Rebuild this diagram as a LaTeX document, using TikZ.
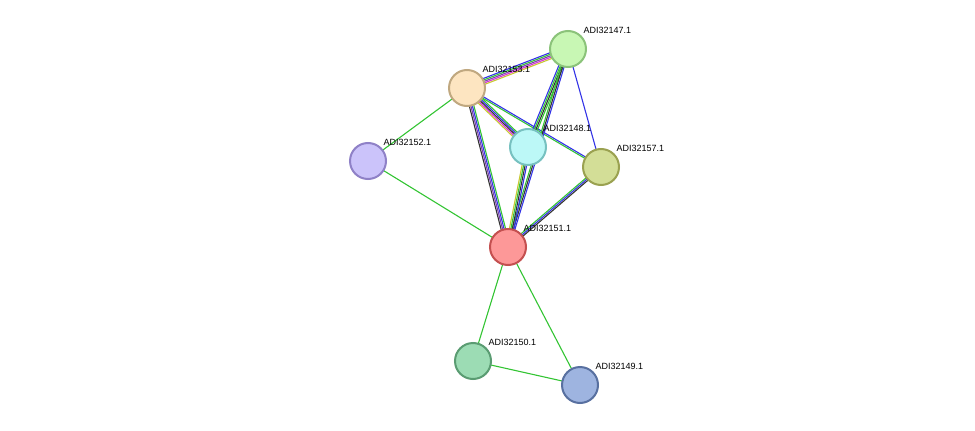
\documentclass[tikz,border=0pt]{standalone}
\usepackage{fontspec}
\setmainfont{Liberation Sans}
\usetikzlibrary{calc,backgrounds}

\definecolor{sgreen}{HTML}{33C433}
\definecolor{sblue}{HTML}{3333E6}
\definecolor{sblack}{HTML}{333333}
\definecolor{syellow}{HTML}{C8C832}
\definecolor{smagenta}{HTML}{D633D6}
\definecolor{spurple}{HTML}{7A3FB0}

\tikzset{
  prot/.style={circle, minimum size=36pt, inner sep=0, line width=2pt},
  lbl/.style={font=\fontsize{9}{10}\selectfont, inner sep=2pt}
}

% one line of the link per colour, shifted sideways by the offset
\newcommand\linkedge[3]{%
  \foreach \o/\c in {#3} {
    \draw[\c, line width=1.1pt] ($(#1)!\o pt!90:(#2)$) -- ($(#2)!\o pt!-90:(#1)$);
  }%
}

\begin{document}
\begin{tikzpicture}[x=1pt, y=-1pt]
    \useasboundingbox (0,0) rectangle (975,431);

    % Proteins
    \node[prot, fill={rgb,255:red,200;green,247;blue,180}, draw={rgb,255:red,139;green,195;blue,122},
      label={[lbl]45:ADI32147.1}] (p147) at (568,49) {};
    \node[prot, fill={rgb,255:red,253;green,229;blue,193}, draw={rgb,255:red,192;green,168;blue,128},
      label={[lbl]45:ADI32153.1}] (p153) at (467,88) {};
    \node[prot, fill={rgb,255:red,188;green,248;blue,247}, draw={rgb,255:red,119;green,193;blue,192},
      label={[lbl]45:ADI32148.1}] (p148) at (528,147) {};
    \node[prot, fill={rgb,255:red,203;green,195;blue,250}, draw={rgb,255:red,143;green,129;blue,199},
      label={[lbl]45:ADI32152.1}] (p152) at (368,161) {};
    \node[prot, fill={rgb,255:red,211;green,222;blue,151}, draw={rgb,255:red,154;green,161;blue,80},
      label={[lbl]45:ADI32157.1}] (p157) at (601,167) {};
    \node[prot, fill={rgb,255:red,253;green,152;blue,152}, draw={rgb,255:red,196;green,80;blue,80},
      label={[lbl]45:ADI32151.1}] (p151) at (508,247) {};
    \node[prot, fill={rgb,255:red,156;green,220;blue,180}, draw={rgb,255:red,90;green,156;blue,114},
      label={[lbl]45:ADI32150.1}] (p150) at (473,361) {};
    \node[prot, fill={rgb,255:red,158;green,180;blue,224}, draw={rgb,255:red,88;green,112;blue,160},
      label={[lbl]45:ADI32149.1}] (p149) at (580,385) {};

    % Links
    \begin{scope}[on background layer]
      \linkedge{p153}{p147}{-3/syellow,-1.5/smagenta,0/spurple,1.5/sgreen,3/sblue}
      \linkedge{p153}{p148}{-3/syellow,-1.5/smagenta,0/sblack,1.5/sblue,3/sgreen}
      \linkedge{p153}{p151}{-2.25/sblack,-0.75/spurple,0.75/sblue,2.25/sgreen}
      \linkedge{p153}{p157}{-0.75/sgreen,0.75/sblue}
      \linkedge{p153}{p152}{0/sgreen}
      \linkedge{p147}{p148}{-2.25/sblue,-0.75/sgreen,0.75/sblack,2.25/sgreen}
      \linkedge{p147}{p151}{-1.5/sgreen,0/sblack,1.5/sblue}
      \linkedge{p147}{p157}{0/sblue}
      \linkedge{p148}{p151}{-2.25/syellow,-0.75/sgreen,0.75/sblack,2.25/sblue}
      \linkedge{p157}{p151}{-1.5/sgreen,0/sblue,1.5/sblack}
      \linkedge{p152}{p151}{0/sgreen}
      \linkedge{p151}{p150}{0/sgreen}
      \linkedge{p151}{p149}{0/sgreen}
      \linkedge{p150}{p149}{0/sgreen}
    \end{scope}

\end{tikzpicture}
\end{document}
